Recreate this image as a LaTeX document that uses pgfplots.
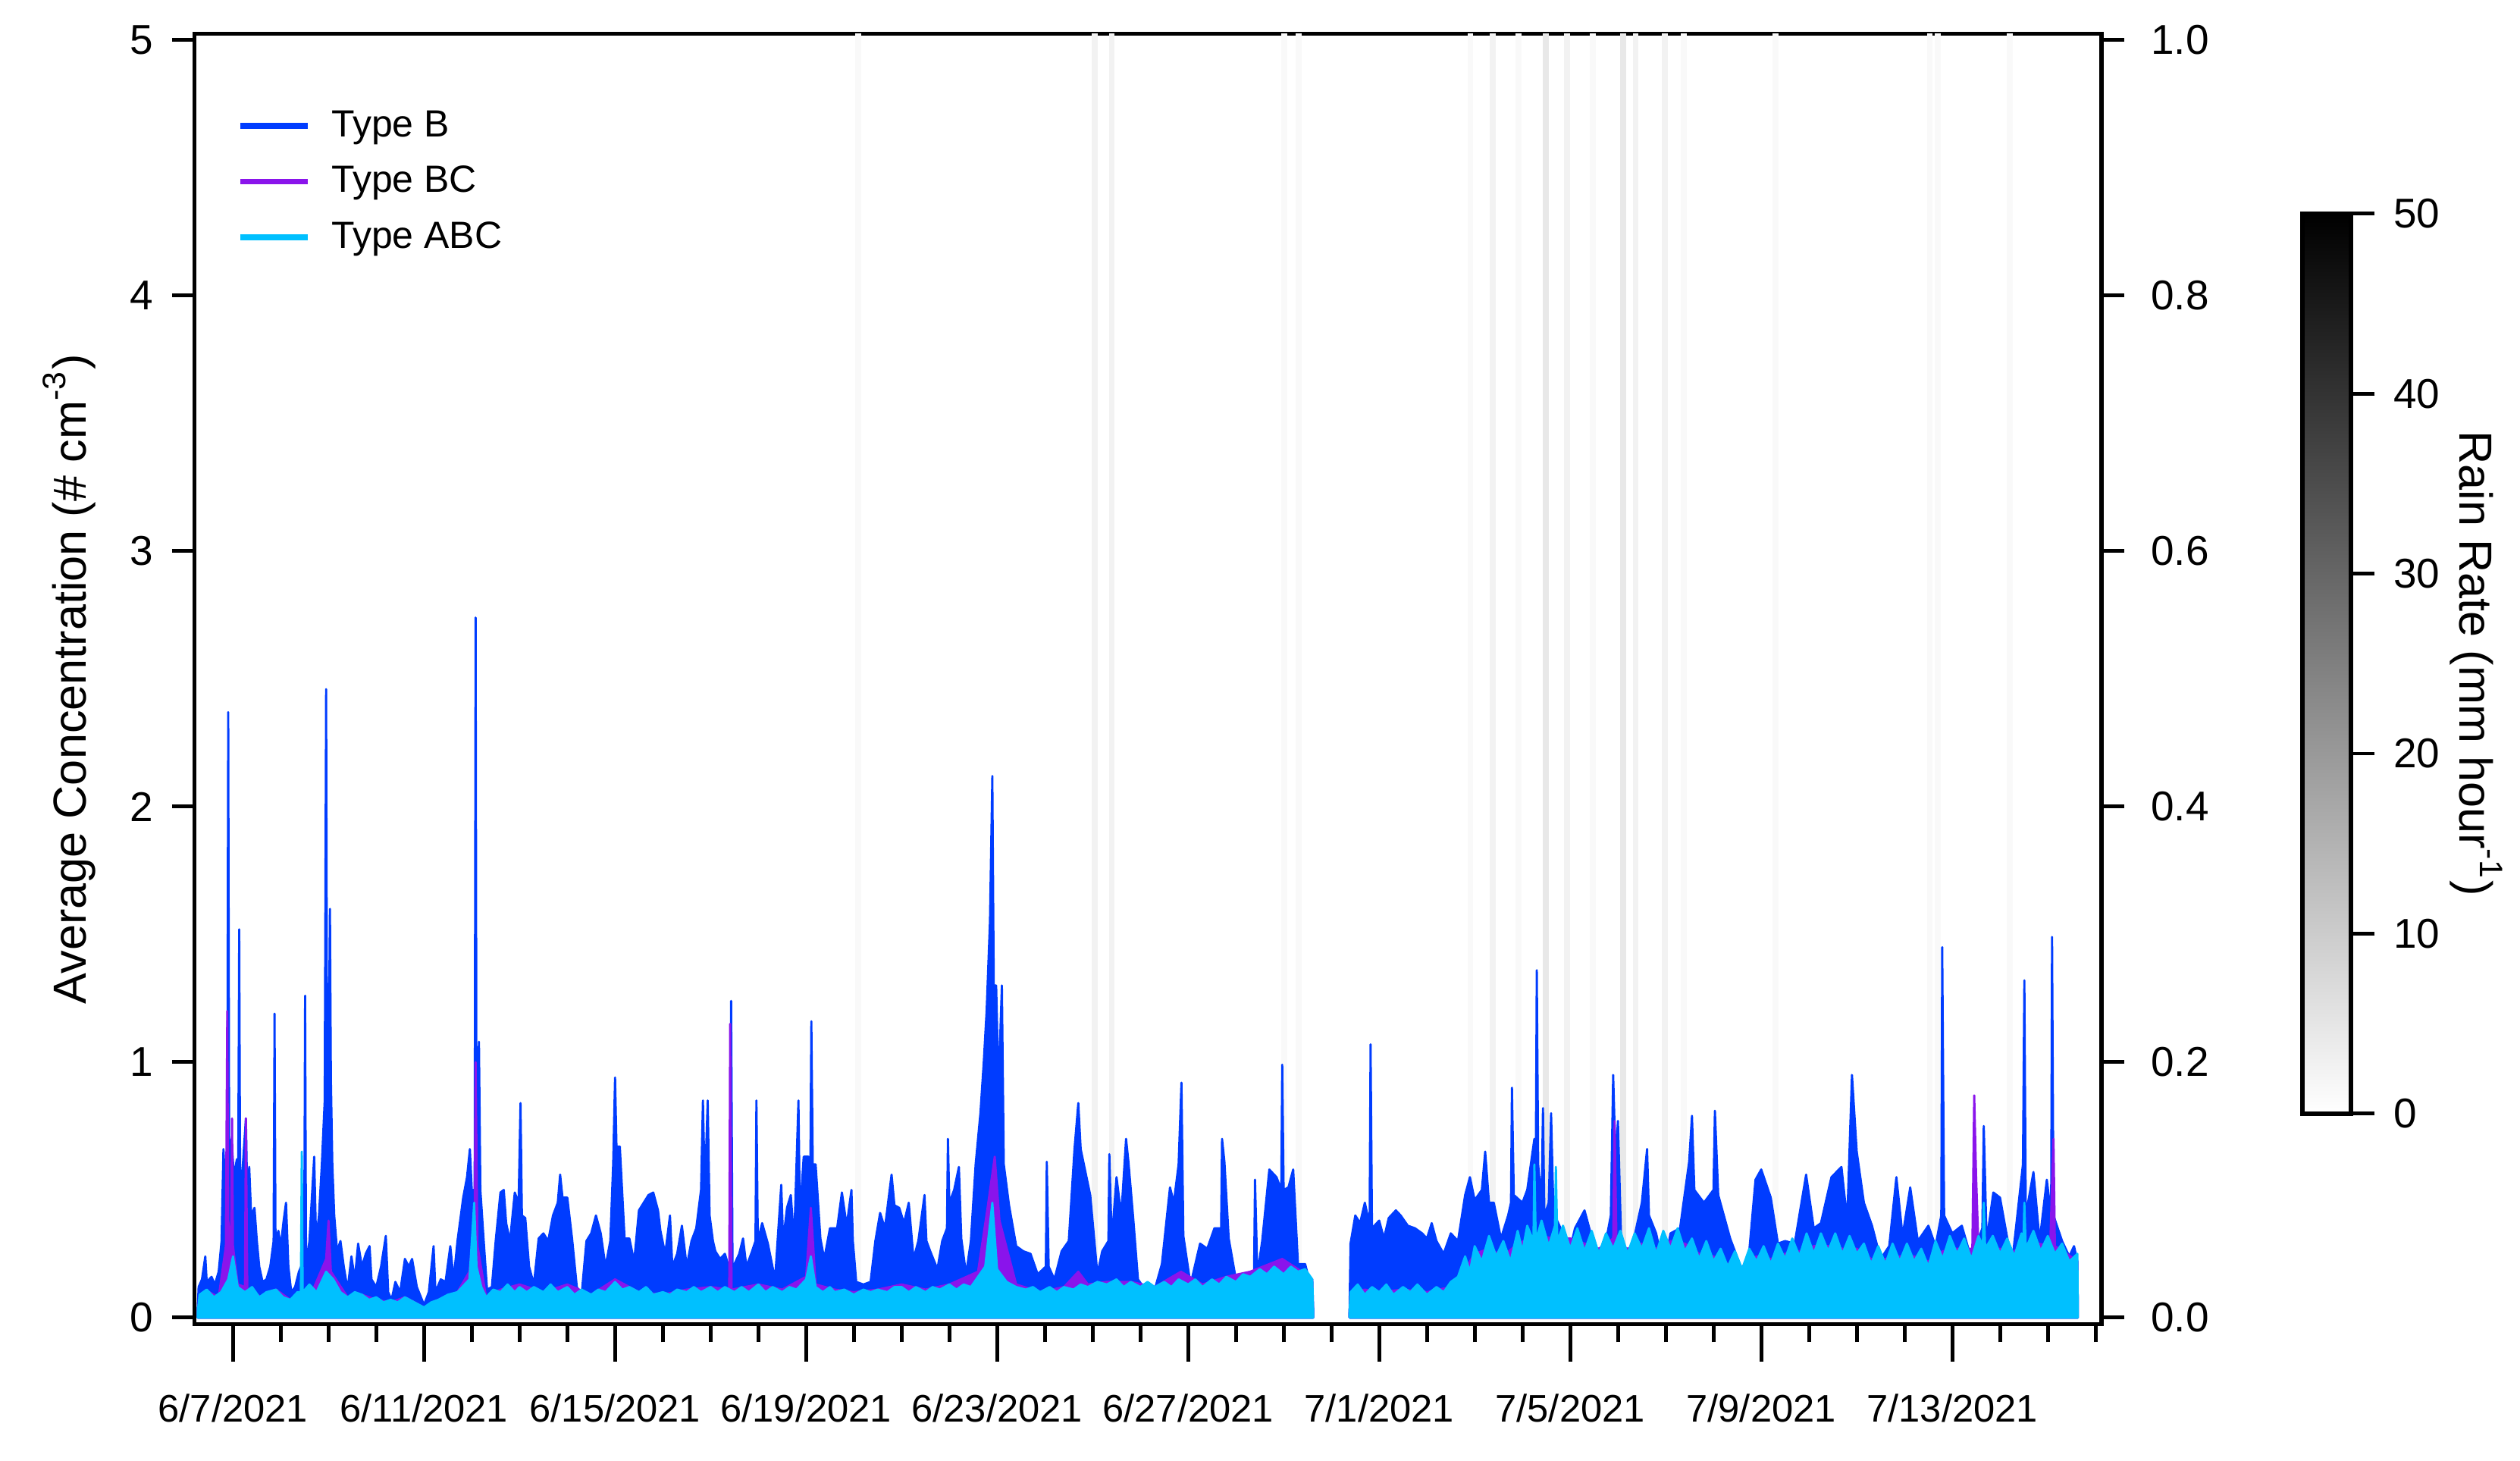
\documentclass[border=0pt]{standalone}
\usepackage{pgfplots}
\pgfplotsset{compat=1.18}
\usepackage{fontspec}
\setmainfont{Liberation Sans}
\usetikzlibrary{calc}

\definecolor{typeB}{RGB}{0,60,255}
\definecolor{typeBC}{RGB}{138,20,235}
\definecolor{typeABC}{RGB}{0,192,255}

% days counted from 5/31 (6/7 = 7, 7/1 = 31, 7/13 = 43)
\pgfplotsset{
  myaxis/.style={
    scale only axis, width=356.1bp, height=240.9bp,
    /pgf/number format/assume math mode=true,
    tick align=outside,
    tick style={black, line width=0.7pt},
    axis line style={black, line width=0.8pt},
    label style={font=\fontsize{8.7}{10}\selectfont},
  },
  spikes/.style={line width=0.4pt, line join=round},
}

\begin{document}
\begin{tikzpicture}

% main axis: data, rain bands, date axis
\begin{axis}[myaxis,
  xmin=6.192, xmax=46.129, ymin=-0.025, ymax=5.025,
  xtick={7,11,...,43},
  xticklabels={6/7/2021,6/11/2021,6/15/2021,6/19/2021,6/23/2021,6/27/2021,7/1/2021,7/5/2021,7/9/2021,7/13/2021},
  minor xtick={7,...,46},
  xtick pos=left, ytick=\empty,
  major tick length=7bp, minor tick length=3.4bp,
  xticklabel style={font=\fontsize{7.2}{9}\selectfont, yshift=-2.5bp},
  legend style={draw=none, fill=none, at={(0.0219,0.946)}, anchor=north west,
    font=\fontsize{7.1}{8.5}\selectfont, inner sep=0pt, row sep=2.4bp,
    nodes={inner sep=0pt, text height=6bp, text depth=2bp},
    /tikz/every odd column/.append style={column sep=3.9bp}},
  legend cell align=left,
  legend image code/.code={\draw[line width=1.1pt,#1] (0bp,0bp) -- (12.6bp,0bp);},
]
% rain periods (light, ~2-5 mm/h)
\addplot[ycomb, gray!5, line width=1.1pt, forget plot] coordinates {
  (20.09,5.1) (29.01,5.1) (29.31,5.1) (32.91,5.1) (33.92,5.1) (35.47,5.1)
  (37.38,5.1) (39.30,5.1) (42.53,5.1) (42.70,5.1) (44.21,5.1)};
\addplot[ycomb, gray!10, line width=1.1pt, forget plot] coordinates {
  (25.04,5.1) (25.40,5.1) (33.38,5.1) (34.93,5.1) (36.37,5.1) (36.98,5.1)};
\addplot[ycomb, gray!18, line width=1.1pt, forget plot] coordinates {
  (34.49,5.1) (36.11,5.1)};

% Type B
\addplot[spikes, draw=typeB, fill=typeB] coordinates {
(6.26,0.03) (6.28,0.12) (6.35,0.15) (6.42,0.24) (6.45,0.14) (6.55,0.16) (6.62,0.13) (6.70,0.18) (6.76,0.30)
(6.80,0.66) (6.84,0.5) (6.88,0.66) (6.90,2.37) (6.92,0.6) (6.97,0.7) (7.02,0.55) (7.08,0.62) (7.11,0.6) (7.13,1.52) (7.15,0.5)
(7.2,0.58) (7.27,0.78) (7.3,0.45) (7.34,0.59) (7.38,0.4) (7.45,0.43) (7.5,0.3) (7.55,0.2) (7.62,0.14) (7.7,0.15)
(7.78,0.2) (7.85,0.3) (7.87,1.19) (7.89,0.3) (7.95,0.34) (8.0,0.28) (8.06,0.38) (8.11,0.45) (8.16,0.2) (8.22,0.1)
(8.3,0.12) (8.38,0.18) (8.45,0.21) (8.49,0.2) (8.51,1.26) (8.53,0.2) (8.6,0.3) (8.66,0.5) (8.70,0.63) (8.74,0.3) (8.8,0.4)
(8.86,0.6) (8.92,0.85) (8.95,2.46) (8.97,0.9) (9.0,0.93) (9.03,1.6) (9.05,0.93) (9.08,0.6) (9.12,0.4) (9.18,0.26)
(9.25,0.3) (9.32,0.2) (9.4,0.11) (9.48,0.24) (9.55,0.15) (9.62,0.29) (9.7,0.2) (9.78,0.25) (9.86,0.28) (9.9,0.15)
(10.0,0.12) (10.1,0.2) (10.2,0.32) (10.25,0.1) (10.32,0.07) (10.4,0.14) (10.5,0.1) (10.6,0.23) (10.68,0.2) (10.75,0.23)
(10.85,0.12) (11.0,0.05) (11.1,0.1) (11.2,0.28) (11.24,0.1) (11.35,0.15) (11.45,0.14) (11.55,0.28) (11.62,0.15)
(11.7,0.3) (11.82,0.47) (11.9,0.55) (11.96,0.66) (12.0,0.5) (12.06,0.5) (12.08,2.74) (12.1,0.6) (12.15,1.08) (12.18,0.5)
(12.25,0.3) (12.32,0.11) (12.42,0.12) (12.5,0.3) (12.6,0.49) (12.67,0.5) (12.72,0.37) (12.8,0.3) (12.9,0.49)
(12.98,0.45) (13.02,0.84) (13.05,0.4) (13.12,0.39) (13.2,0.2) (13.3,0.13) (13.4,0.31) (13.5,0.33) (13.6,0.3)
(13.7,0.4) (13.8,0.45) (13.85,0.56) (13.9,0.47) (14.0,0.47) (14.1,0.31) (14.2,0.12) (14.3,0.09) (14.4,0.3)
(14.5,0.33) (14.6,0.4) (14.7,0.33) (14.8,0.2) (14.9,0.3) (14.96,0.6) (15.0,0.94) (15.03,0.67) (15.1,0.67) (15.2,0.31)
(15.3,0.31) (15.4,0.22) (15.5,0.42) (15.6,0.45) (15.7,0.48) (15.8,0.49) (15.9,0.42) (15.95,0.34) (16.05,0.25)
(16.15,0.4) (16.2,0.2) (16.3,0.25) (16.4,0.36) (16.5,0.2) (16.6,0.3) (16.7,0.35) (16.8,0.5) (16.84,0.85) (16.88,0.5)
(16.94,0.85) (16.98,0.4) (17.05,0.3) (17.1,0.26) (17.2,0.23) (17.3,0.25) (17.38,0.2) (17.41,0.2) (17.43,1.24) (17.46,0.2)
(17.5,0.21) (17.6,0.25) (17.68,0.31) (17.75,0.2) (17.85,0.25) (17.94,0.3) (17.96,0.85) (17.99,0.3) (18.08,0.37) (18.2,0.29)
(18.35,0.15) (18.48,0.52) (18.52,0.3) (18.6,0.43) (18.68,0.48) (18.75,0.3) (18.84,0.85) (18.87,0.4) (18.95,0.63)
(19.05,0.63) (19.09,0.6) (19.11,1.16) (19.14,0.6) (19.2,0.6) (19.3,0.31) (19.38,0.23) (19.5,0.35) (19.65,0.35) (19.75,0.49)
(19.85,0.36) (19.95,0.5) (19.98,0.3) (20.05,0.14) (20.2,0.13) (20.35,0.14) (20.45,0.3) (20.55,0.41) (20.65,0.35)
(20.79,0.56) (20.85,0.44) (20.95,0.43) (21.05,0.37) (21.15,0.45) (21.25,0.23) (21.35,0.3) (21.48,0.48) (21.52,0.3)
(21.6,0.26) (21.75,0.19) (21.85,0.3) (21.95,0.35) (21.97,0.7) (22.0,0.45) (22.1,0.5) (22.2,0.59) (22.25,0.31) (22.35,0.17)
(22.45,0.3) (22.55,0.6) (22.65,0.8) (22.72,1.0) (22.78,1.2) (22.85,1.55) (22.9,2.12) (22.93,1.3) (22.98,1.3)
(23.03,0.9) (23.1,1.3) (23.14,0.6) (23.25,0.44) (23.4,0.28) (23.55,0.26) (23.7,0.25) (23.85,0.17) (24.02,0.2) (24.04,0.61)
(24.08,0.2) (24.2,0.15) (24.35,0.26) (24.5,0.3) (24.62,0.66) (24.7,0.84) (24.75,0.66) (24.85,0.57) (24.95,0.48)
(25.1,0.17) (25.2,0.26) (25.33,0.3) (25.35,0.64) (25.4,0.3) (25.5,0.55) (25.6,0.4) (25.7,0.7) (25.75,0.61) (25.85,0.39)
(25.95,0.15) (26.1,0.11) (26.3,0.11) (26.45,0.21) (26.62,0.51) (26.7,0.45) (26.8,0.6) (26.86,0.92) (26.9,0.32)
(27.05,0.13) (27.25,0.29) (27.4,0.27) (27.55,0.35) (27.69,0.35) (27.71,0.7) (27.76,0.61) (27.85,0.31) (28.0,0.15) (28.2,0.17)
(28.38,0.17) (28.4,0.54) (28.45,0.17) (28.55,0.3) (28.7,0.58) (28.85,0.55) (28.95,0.5) (28.97,0.99) (29.0,0.5) (29.1,0.51)
(29.2,0.58) (29.3,0.21) (29.45,0.21) (29.57,0.12) (29.62,0.03)} \closedcycle;
\addplot[spikes, draw=typeB, fill=typeB, forget plot] coordinates {
(30.38,0.03) (30.40,0.29) (30.5,0.4) (30.6,0.37) (30.7,0.45) (30.78,0.38) (30.80,0.38) (30.82,1.07) (30.85,0.35)
(31.0,0.38) (31.1,0.31) (31.2,0.39) (31.35,0.42) (31.45,0.4) (31.6,0.36) (31.75,0.35) (31.9,0.33) (32.0,0.31)
(32.1,0.37) (32.2,0.3) (32.35,0.25) (32.5,0.33) (32.65,0.3) (32.8,0.48) (32.9,0.55) (33.0,0.46) (33.15,0.5)
(33.22,0.65) (33.3,0.45) (33.4,0.45) (33.55,0.31) (33.7,0.4) (33.76,0.45) (33.78,0.9) (33.82,0.48) (34.0,0.45) (34.1,0.5)
(34.25,0.7) (34.28,0.6) (34.3,1.36) (34.33,0.6) (34.4,0.45) (34.43,0.82) (34.46,0.4) (34.55,0.45) (34.6,0.8) (34.65,0.41)
(34.8,0.35) (34.95,0.23) (35.1,0.35) (35.3,0.42) (35.5,0.28) (35.7,0.25) (35.85,0.4) (35.9,0.95) (35.95,0.61) (36.0,0.77)
(36.08,0.21) (36.3,0.28) (36.5,0.45) (36.61,0.66) (36.65,0.4) (36.8,0.33) (36.96,0.19) (37.1,0.33) (37.3,0.35)
(37.49,0.61) (37.55,0.79) (37.6,0.5) (37.8,0.45) (38.0,0.5) (38.03,0.81) (38.1,0.48) (38.35,0.31) (38.55,0.21)
(38.66,0.07) (38.88,0.54) (39.0,0.58) (39.2,0.47) (39.35,0.29) (39.5,0.3) (39.7,0.29) (39.94,0.56) (40.1,0.35)
(40.25,0.37) (40.47,0.55) (40.68,0.59) (40.8,0.38) (40.9,0.95) (41.0,0.65) (41.15,0.45) (41.32,0.36) (41.5,0.23)
(41.68,0.28) (41.83,0.55) (41.96,0.32) (42.12,0.51) (42.28,0.3) (42.5,0.36) (42.65,0.28) (42.77,0.4) (42.79,1.45) (42.83,0.4)
(43.0,0.33) (43.2,0.36) (43.4,0.23) (43.63,0.35) (43.66,0.75) (43.72,0.3) (43.86,0.49) (44.0,0.47) (44.25,0.21) (44.48,0.6)
(44.51,1.32) (44.54,0.4) (44.7,0.57) (44.83,0.3) (44.98,0.54) (45.07,0.4) (45.09,1.49) (45.12,0.4) (45.3,0.3) (45.45,0.24)
(45.55,0.28) (45.62,0.22) (45.63,0.03)} \closedcycle;

% Type BC
\addplot[spikes, draw=typeBC, fill=typeBC] coordinates {
(6.26,0.02) (6.3,0.09) (6.5,0.1) (6.7,0.08) (6.85,0.28) (6.88,1.2) (6.9,0.38) (6.96,0.28) (6.98,0.78) (7.0,0.28)
(7.1,0.13) (7.25,0.12) (7.27,0.78) (7.3,0.11) (7.6,0.08) (7.9,0.11) (8.2,0.07) (8.5,0.1) (8.7,0.12) (8.95,0.23)
(9.0,0.38) (9.05,0.18) (9.4,0.08) (9.7,0.09) (10.0,0.07) (10.3,0.06) (10.6,0.08) (11.0,0.04) (11.3,0.07) (11.7,0.1)
(11.95,0.18) (12.06,0.38) (12.08,1.0) (12.12,0.28) (12.3,0.08) (12.6,0.11) (13.0,0.13) (13.5,0.1) (14.0,0.13)
(14.5,0.09) (15.0,0.15) (15.5,0.1) (16.0,0.09) (16.5,0.11) (17.0,0.12) (17.39,0.11) (17.41,1.15) (17.44,0.11)
(18.0,0.13) (18.5,0.11) (19.0,0.16) (19.1,0.43) (19.2,0.13) (19.6,0.11) (20.0,0.1) (20.5,0.11) (21.0,0.13)
(21.5,0.11) (22.0,0.13) (22.6,0.18) (22.8,0.43) (22.95,0.63) (23.05,0.38) (23.4,0.13) (23.9,0.1) (24.4,0.12)
(24.7,0.18) (24.9,0.13) (25.3,0.14) (25.8,0.14) (26.3,0.12) (26.85,0.18) (27.3,0.13) (27.8,0.16) (28.3,0.18)
(28.97,0.23) (29.3,0.19) (29.6,0.15) (29.62,0.02)} \closedcycle;
\addplot[spikes, draw=typeBC, fill=typeBC, forget plot] coordinates {
(30.38,0.02) (30.4,0.1) (30.7,0.11) (31.0,0.1) (31.5,0.11) (32.0,0.1) (32.5,0.12) (32.8,0.19) (33.0,0.25)
(33.3,0.27) (33.6,0.24) (33.9,0.29) (34.3,0.32) (34.7,0.31) (35.0,0.31) (35.3,0.29) (35.6,0.27) (35.9,0.31)
(35.93,0.77) (35.97,0.29) (36.2,0.27) (36.5,0.29) (36.8,0.27) (37.1,0.3) (37.4,0.29) (37.7,0.25) (38.0,0.24)
(38.3,0.21) (38.6,0.2) (38.9,0.24) (39.2,0.23) (39.5,0.25) (39.8,0.26) (40.1,0.28) (40.4,0.28) (40.7,0.27)
(41.0,0.27) (41.3,0.23) (41.6,0.23) (41.9,0.24) (42.2,0.24) (42.5,0.22) (42.8,0.26) (43.1,0.27) (43.42,0.27)
(43.46,0.87) (43.5,0.55) (43.55,0.27) (44.0,0.27) (44.3,0.26) (44.5,0.29) (44.8,0.29) (45.05,0.28) (45.12,0.7)
(45.15,0.28) (45.4,0.25) (45.62,0.22) (45.63,0.02)} \closedcycle;

% Type ABC
\addplot[spikes, draw=typeABC, fill=typeABC] coordinates {
(6.26,0.02) (6.3,0.09) (6.45,0.11) (6.6,0.08) (6.75,0.1) (6.9,0.15) (7.0,0.24) (7.1,0.12) (7.25,0.1) (7.4,0.12)
(7.55,0.08) (7.7,0.1) (7.9,0.11) (8.05,0.08) (8.2,0.07) (8.35,0.1) (8.42,0.1) (8.44,0.65) (8.46,0.1) (8.6,0.13)
(8.75,0.1) (8.95,0.18) (9.1,0.15) (9.25,0.1) (9.4,0.08) (9.55,0.1) (9.7,0.09) (9.85,0.07) (10.0,0.08) (10.15,0.06)
(10.3,0.07) (10.45,0.06) (10.6,0.08) (10.8,0.06) (11.0,0.04) (11.15,0.06) (11.3,0.07) (11.5,0.09) (11.7,0.1)
(11.85,0.13) (11.95,0.15) (12.05,0.45) (12.1,0.2) (12.2,0.12) (12.3,0.08) (12.45,0.11) (12.6,0.1) (12.75,0.13)
(12.9,0.1) (13.0,0.12) (13.15,0.1) (13.3,0.12) (13.5,0.1) (13.65,0.13) (13.8,0.1) (14.0,0.12) (14.15,0.09)
(14.3,0.11) (14.5,0.09) (14.65,0.11) (14.8,0.1) (15.0,0.14) (15.15,0.11) (15.3,0.12) (15.5,0.1) (15.65,0.12)
(15.8,0.09) (16.0,0.1) (16.15,0.09) (16.3,0.11) (16.5,0.1) (16.65,0.12) (16.8,0.1) (17.0,0.12) (17.15,0.1)
(17.3,0.12) (17.5,0.1) (17.65,0.12) (17.8,0.1) (18.0,0.13) (18.15,0.1) (18.3,0.12) (18.5,0.1) (18.65,0.12)
(18.8,0.11) (19.0,0.15) (19.1,0.24) (19.2,0.12) (19.35,0.1) (19.5,0.12) (19.6,0.1) (19.8,0.11) (20.0,0.09)
(20.2,0.11) (20.35,0.1) (20.5,0.11) (20.7,0.1) (20.85,0.12) (21.0,0.12) (21.15,0.1) (21.3,0.12) (21.5,0.1)
(21.65,0.12) (21.8,0.11) (22.0,0.13) (22.15,0.11) (22.3,0.13) (22.45,0.12) (22.6,0.16) (22.75,0.2) (22.9,0.45)
(23.0,0.19) (23.2,0.14) (23.4,0.12) (23.6,0.11) (23.75,0.12) (23.9,0.1) (24.1,0.12) (24.25,0.1) (24.4,0.12)
(24.6,0.11) (24.75,0.13) (24.9,0.12) (25.1,0.14) (25.3,0.13) (25.5,0.15) (25.65,0.12) (25.8,0.14) (26.0,0.12)
(26.15,0.14) (26.3,0.12) (26.5,0.14) (26.65,0.12) (26.8,0.15) (27.0,0.13) (27.15,0.15) (27.3,0.12) (27.5,0.15)
(27.65,0.13) (27.8,0.16) (28.0,0.14) (28.15,0.17) (28.3,0.16) (28.5,0.19) (28.65,0.17) (28.8,0.2) (29.0,0.17)
(29.15,0.2) (29.3,0.18) (29.45,0.19) (29.6,0.15) (29.62,0.02)} \closedcycle;
\addplot[spikes, draw=typeABC, fill=typeABC, forget plot] coordinates {
(30.38,0.02) (30.4,0.1) (30.55,0.13) (30.7,0.09) (30.85,0.12) (31.0,0.1) (31.15,0.13) (31.3,0.09) (31.5,0.12)
(31.65,0.1) (31.8,0.13) (32.0,0.09) (32.2,0.12) (32.35,0.1) (32.5,0.14) (32.65,0.16) (32.8,0.24) (32.9,0.18)
(33.0,0.28) (33.15,0.22) (33.3,0.32) (33.45,0.24) (33.6,0.3) (33.75,0.22) (33.9,0.34) (34.0,0.26) (34.1,0.36)
(34.23,0.3) (34.25,0.6) (34.28,0.3) (34.4,0.38) (34.55,0.28) (34.68,0.36) (34.7,0.59) (34.73,0.3) (34.85,0.36)
(35.0,0.27) (35.15,0.35) (35.3,0.26) (35.45,0.34) (35.6,0.25) (35.75,0.33) (35.9,0.27) (36.05,0.34) (36.2,0.25)
(36.35,0.33) (36.5,0.27) (36.65,0.35) (36.8,0.25) (36.95,0.34) (37.1,0.27) (37.25,0.35) (37.4,0.26) (37.55,0.31)
(37.7,0.23) (37.85,0.3) (38.0,0.22) (38.15,0.27) (38.3,0.2) (38.45,0.26) (38.6,0.19) (38.75,0.27) (38.9,0.22)
(39.05,0.28) (39.2,0.21) (39.35,0.29) (39.5,0.23) (39.65,0.31) (39.8,0.24) (39.95,0.33) (40.1,0.25) (40.25,0.33)
(40.4,0.26) (40.55,0.33) (40.7,0.25) (40.85,0.32) (41.0,0.25) (41.15,0.29) (41.3,0.21) (41.45,0.28) (41.6,0.21)
(41.75,0.29) (41.9,0.22) (42.05,0.29) (42.2,0.22) (42.35,0.27) (42.5,0.2) (42.65,0.3) (42.8,0.23) (42.95,0.32)
(43.1,0.25) (43.25,0.31) (43.4,0.23) (43.55,0.32) (43.64,0.28) (43.66,0.45) (43.69,0.27) (43.85,0.32) (44.0,0.25)
(44.15,0.31) (44.3,0.24) (44.45,0.33) (44.49,0.3) (44.51,0.45) (44.54,0.27) (44.7,0.34) (44.85,0.26) (45.0,0.32)
(45.15,0.25) (45.3,0.29) (45.45,0.22) (45.62,0.25) (45.63,0.02)} \closedcycle;

\legend{Type B, Type BC, Type ABC}
\end{axis}

% left concentration axis
\begin{axis}[myaxis,
  axis x line=none, axis y line*=left,
  xmin=0, xmax=1, ymin=-0.025, ymax=5.025,
  ytick={0,1,...,5}, major tick length=4.2bp,
  yticklabel style={font=\fontsize{7.8}{9}\selectfont},
  ylabel={Average Concentration (\# cm\textsuperscript{-3})},
  ylabel style={at={(axis description cs:-0.0657,0.5)}, anchor=center},
]
\end{axis}

% right axis and rain-rate colour bar
\begin{axis}[myaxis,
  axis x line=none, axis y line*=right,
  xmin=0, xmax=1, ymin=-0.005, ymax=1.005,
  ytick={0,0.2,...,1}, major tick length=4.2bp,
  yticklabel style={font=\fontsize{7.8}{9}\selectfont, xshift=1.5bp,
    /pgf/number format/fixed, /pgf/number format/fixed zerofill,
    /pgf/number format/precision=1},
  colormap={rain}{color=(white) color=(black)},
  point meta min=0, point meta max=50,
  colorbar,
  colorbar shift/.style={},
  colorbar style={
    at={($(parent axis.north east)+(37.5bp,-33.6bp)$)}, anchor=north west,
    width=9bp, height=168bp,
    ytick={0,10,...,50}, ytick pos=right, yticklabel pos=right,
    tick align=outside, major tick length=4.5bp,
    tick style={black, line width=0.7pt},
    axis line style={black, line width=0.8pt},
    /pgf/number format/assume math mode=true,
    yticklabel style={font=\fontsize{7.8}{9}\selectfont},
    ylabel={Rain Rate (mm hour\textsuperscript{-1})},
    ylabel style={font=\fontsize{8.7}{10}\selectfont, rotate=180,
      at={(axis description cs:3.6,0.5)}, anchor=center},
  },
]
\end{axis}

\path (-36.3bp,-25.5bp) rectangle (434.1bp,247.2bp);
\end{tikzpicture}
\end{document}
